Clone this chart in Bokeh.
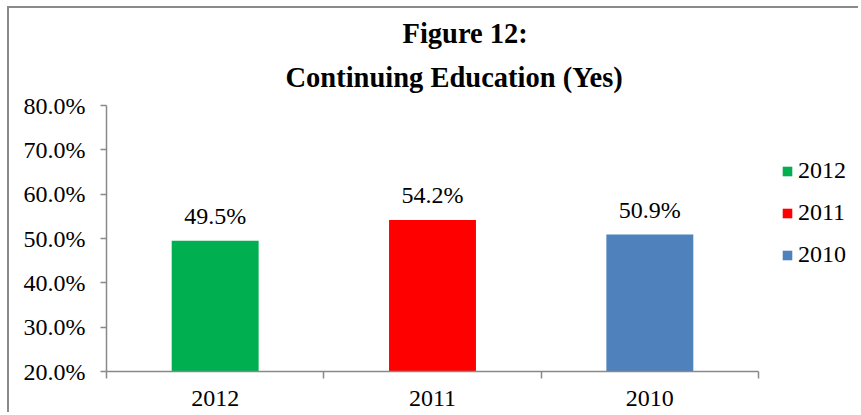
from bokeh.plotting import figure
from bokeh.models import (ColumnDataSource, LabelSet, LinearAxis, Range1d, FixedTicker,
                          NumeralTickFormatter, Title)
from bokeh.embed import file_html
from bokeh.resources import INLINE
from bokeh.core.properties import value

categories = ["2012", "2011", "2010"]
values = [0.495, 0.542, 0.509]
colors = ["#00B050", "#FF0000", "#4F81BD"]
y_ticks = [0.2, 0.3, 0.4, 0.5, 0.6, 0.7, 0.8]
title_lines = ["Figure 12:", "Continuing Education (Yes)"]

FONT = "Liberation Serif"
AXIS_COLOR = "#898989"
BORDER_COLOR = "#8a8a8a"

# layout constants (pixels)
W, H = 851, 406
LEFT, TOP, BOTTOM = 97, 97, 43
CAT_SPAN_PX = 652          # width occupied by the three category slots
FRAME_W = W - LEFT         # frame runs to the right edge so the legend is inside it

n = len(categories)
x_pos = [i + 0.5 for i in range(n)]   # slot centres on the axis scale

src = ColumnDataSource(dict(
    x=x_pos,
    cat=categories,
    val=values,
    color=colors,
    label=[f"{v:.1%}" for v in values],
))

p = figure(x_range=Range1d(0, n * FRAME_W / CAT_SPAN_PX),
           y_range=Range1d(y_ticks[0], y_ticks[-1]),
           width=W, height=H, title=None,
           min_border_left=LEFT, min_border_top=TOP, min_border_right=0, min_border_bottom=BOTTOM,
           output_backend="svg", toolbar_location=None, x_axis_location=None)
p.styles = {"margin-left": "7px", "margin-top": "6px",
            "border-left": f"2px solid {BORDER_COLOR}", "border-top": f"2px solid {BORDER_COLOR}"}
p.outline_line_color = None
p.grid.grid_line_color = None
p.background_fill_color = "white"
p.border_fill_color = "white"

p.vbar(x="x", top="val", bottom=y_ticks[0], width=0.4, fill_color="color", line_color=None,
       source=src, legend_field="cat")

# two-line title (second line nearest the plot)
for txt, off, so, va in [(title_lines[1], 179, 24, "middle"), (title_lines[0], 296, 0, "bottom")]:
    p.add_layout(Title(text=txt, align="left", offset=off, standoff=so, vertical_align=va,
                       text_font=FONT, text_font_size="28.5px", text_font_style="bold",
                       text_color="black"), "above")

# y axis
yax = p.yaxis[0]
yax.ticker = FixedTicker(ticks=y_ticks)
yax.formatter = NumeralTickFormatter(format="0.0%")
yax.major_tick_out = 6
yax.major_tick_in = 0
yax.minor_tick_line_color = None
yax.axis_line_color = AXIS_COLOR
yax.axis_line_width = 1.5
yax.major_tick_line_color = AXIS_COLOR
yax.major_tick_line_width = 1.5
yax.major_label_text_font = FONT
yax.major_label_text_font_size = "24px"
yax.major_label_text_color = "black"
yax.major_label_standoff = 15

# x axis line with ticks at the slot boundaries
line_axis = LinearAxis(ticker=FixedTicker(ticks=list(range(n + 1))), bounds=(0, n),
                       major_label_text_font_size="0px", major_label_standoff=0,
                       major_tick_out=0, major_tick_in=-7,
                       minor_tick_line_color=None,
                       axis_line_color=AXIS_COLOR, axis_line_width=1.5,
                       major_tick_line_color=AXIS_COLOR, major_tick_line_width=1.5)
p.add_layout(line_axis, "below")
# category labels at slot centres
label_axis = LinearAxis(ticker=FixedTicker(ticks=x_pos),
                        major_label_overrides={x: c for x, c in zip(x_pos, categories)},
                        axis_line_color=None, major_tick_line_color=None,
                        minor_tick_line_color=None,
                        major_label_text_font=FONT, major_label_text_font_size="24px",
                        major_label_text_color="black", major_label_standoff=13)
p.add_layout(label_axis, "below")

# data labels
labels = LabelSet(x="x", y="val", text="label", source=src, y_offset=17,
                  text_align="center", text_baseline="alphabetic",
                  text_font=value(FONT), text_font_size="24px", text_color="black")
p.add_layout(labels)

# legend (inside the widened frame)
lg = p.legend[0]
lg.location = (675, 103)
lg.border_line_color = None
lg.background_fill_alpha = 0
lg.padding = 0
lg.margin = 0
lg.glyph_width = 12
lg.glyph_height = 12
lg.label_height = 24
lg.spacing = 15
lg.label_standoff = 5
lg.label_text_font = FONT
lg.label_text_font_size = "24px"
lg.label_text_color = "black"

open("out.html", "w").write(file_html(p, INLINE))
